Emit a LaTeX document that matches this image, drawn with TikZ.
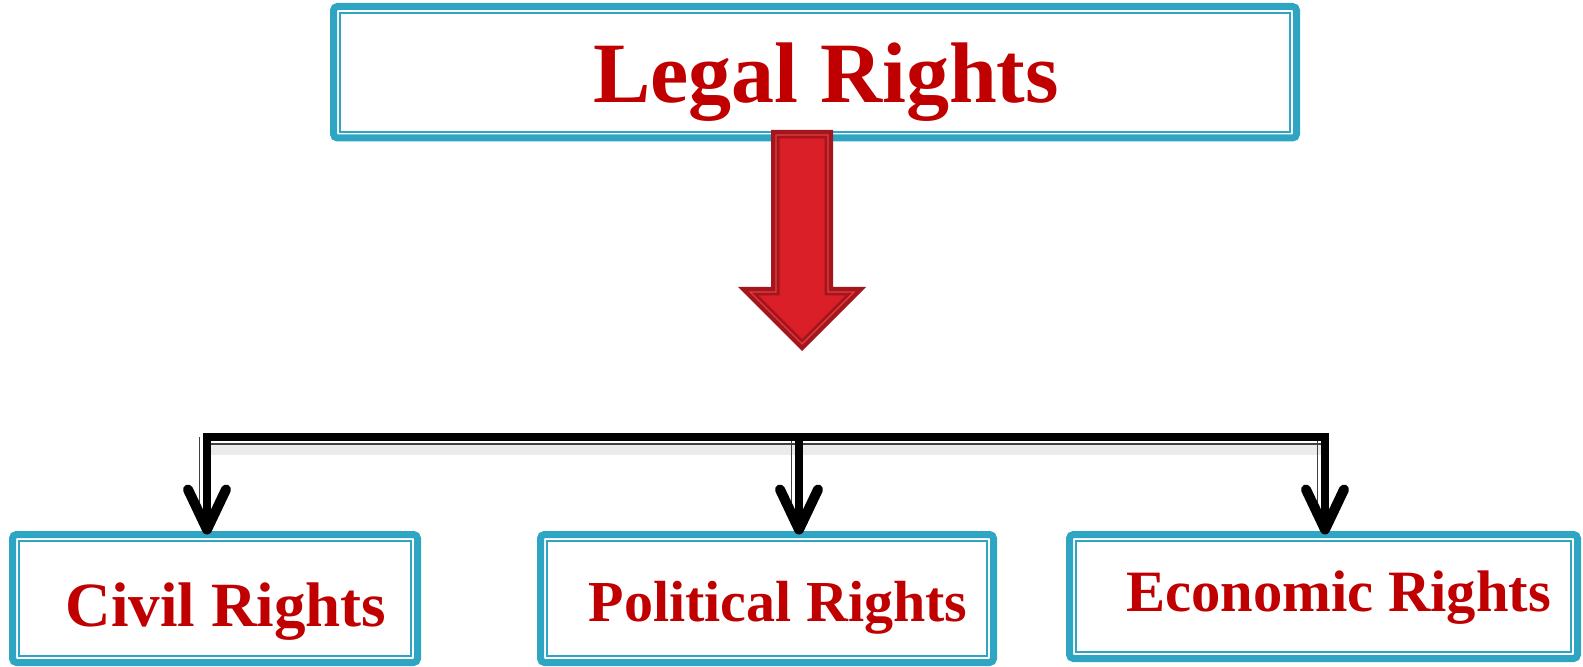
\documentclass[tikz,border=0pt]{standalone}
\usepackage{fontspec}
\setmainfont{Liberation Serif}
\usetikzlibrary{arrows.meta}
\definecolor{boxteal}{RGB}{46,165,195}
\definecolor{textred}{RGB}{192,0,0}
\definecolor{arrowdark}{RGB}{163,22,28}
\definecolor{arrowred}{RGB}{218,31,40}
\definecolor{arrowmid}{RGB}{232,60,66}

\begin{document}
\begin{tikzpicture}[x=0.5pt,y=-0.5pt,
	heading/.style={text=textred, font=\fontsize{#1}{#1}\selectfont\bfseries}]
	\tikzstyle{every node}+=[inner sep=0pt, outer sep=0pt]
	\tikzstyle{rightsbox}=[draw=boxteal, line width=3.5pt, rounded corners=2pt]
	\tikzstyle{innerline}=[draw=boxteal, line width=1pt]
	\tikzstyle{bus}=[black, line width=4pt, line join=miter]
	\tikzstyle{busline}=[black!75, line width=0.8pt]
	\tikzstyle{busshadow}=[black, opacity=0.08, line width=6pt]
	\tikzstyle{barb}=[black, line width=4pt, -{Straight Barb[length=20pt, width=19pt, line width=5pt, round]}]
	\useasboundingbox (0,0) rectangle (1583,667);
	% boxes
	\node[rightsbox, minimum width=481.5pt, minimum height=65.75pt] (legal) at (815,72.25) {};
	\node[rightsbox, minimum width=202.5pt, minimum height=64pt] (civil) at (215,598.5) {};
	\node[rightsbox, minimum width=226.5pt, minimum height=64pt] (political) at (767,598.5) {};
	\node[rightsbox, minimum width=254pt, minimum height=62pt] (economic) at (1323.5,596.5) {};
	\foreach \b in {legal,civil,political,economic}
		\draw[innerline] ([shift={(6.3,6.3)}]\b.north west) rectangle ([shift={(-6.3,-6.3)}]\b.south east);
	% labels
	\node[heading=43pt, anchor=base] (legaltxt) at (826,103) {Legal Rights};
	\node[heading=31.5pt, anchor=base] (civiltxt) at (226,626) {Civil Rights};
	\node[heading=29pt, anchor=base] (politicaltxt) at (778,621) {Political Rights};
	\node[heading=29.3pt, anchor=base] (economictxt) at (1338.5,611) {Economic Rights};
	% big red arrow
	\fill[arrowdark] (771,130) -- (771,287) -- (738,287) -- (802,351) -- (866,287) -- (833,287) -- (833,130) -- cycle;
	\draw[arrowmid, line width=0.6pt] (776,135) -- (776,292) -- (750.1,292) -- (802,343.9) -- (853.9,292) -- (828,292) -- (828,135) -- cycle;
	\draw[arrowdark, fill=arrowred, line width=0.5pt] (779,138) -- (779,295) -- (757.3,295) -- (802,339.7) -- (846.7,295) -- (825,295) -- (825,138) -- cycle;
	% connectors
	\coordinate (busL) at (207,437.5);
	\coordinate (busM) at (799,437.5);
	\coordinate (busR) at (1325,437.5);
	\draw[busshadow] ([yshift=-6pt]busL) -- ([yshift=-6pt]busR);
	\draw[busline] ([yshift=-3.2pt]busL) -- ([yshift=-3.2pt]busR);
	\foreach \c/\b in {busL/civil,busM/political,busR/economic}
		\draw[busline] ([xshift=-3.7pt]\c) -- ([xshift=-3.7pt,yshift=8pt]\c |- \b.north);
	\draw[bus] (busL) -- (busR);
	\foreach \c/\b in {busL/civil,busM/political,busR/economic}
		\draw[barb] ([yshift=2pt]\c) -- (\c |- \b.north);
\end{tikzpicture}
\end{document}
